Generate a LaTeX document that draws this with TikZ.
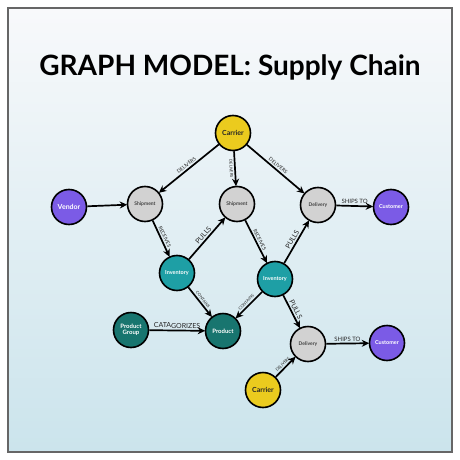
\documentclass[tikz,border=0pt]{standalone}
\usepackage{fontspec}
\setmainfont{Lato}
\usetikzlibrary{positioning,arrows.meta}
\definecolor{colorCAR}{HTML}{EBCB1E}
\definecolor{colorVEN}{HTML}{7B5BE6}
\definecolor{colorSHP}{HTML}{D2D2D2}
\definecolor{colorINV}{HTML}{1E9FA5}
\definecolor{colorPRD}{HTML}{18756F}
\definecolor{colorTOP}{HTML}{F8F9FB}
\definecolor{colorMID}{HTML}{E9F2F6}
\definecolor{colorBOT}{HTML}{CBE4EC}
\newcommand{\fs}[1]{\fontsize{#1}{#1}\selectfont}
\tikzset{
   every path/.style={>={Stealth[length=7.5pt,width=7pt]}},
   ent/.style={circle,draw=black,line width=1.6pt,minimum size=35pt,inner sep=0pt,align=center},
   car/.style={ent,fill=colorCAR,text=black!85,font=\bfseries\fs{7}},
   ven/.style={ent,fill=colorVEN,text=white,font=\bfseries\fs{7}},
   cus/.style={ent,fill=colorVEN,text=white,font=\bfseries\fs{5.5}},
   shp/.style={ent,fill=colorSHP,text=black!75,font=\bfseries\fs{5}},
   inv/.style={ent,fill=colorINV,text=white,font=\bfseries\fs{5.5}},
   prd/.style={ent,fill=colorPRD,text=white,font=\bfseries\fs{6}},
   rel/.style={->,line width=1.7pt,shorten >=-0.5pt},
   lbl/.style={sloped,above,inner sep=1.5pt,text=black!85,font=\fs{5}},
   lbs/.style={lbl,font=\fs{4}},
   lbb/.style={lbl,font=\fs{7}},
}
\begin{document}
\begin{tikzpicture}[x=1pt,y=-1pt]
      \useasboundingbox (0,0) rectangle (460,460);
      \fill[white] (0,0) rectangle (460,460);
      \shade[top color=colorTOP,middle color=colorMID,bottom color=colorBOT] (8,8) rectangle (452,452);
      \draw[gray!80!black,line width=1.2pt] (8,8) rectangle (452,452);
      \node[font=\bfseries\fs{28}] (ttl) at (230,67) {GRAPH MODEL: Supply Chain};
      \node[car] (car1) at (233,133) {Carrier};
      \node[ven] (ven) at (69,207) {Vendor};
      \node[shp] (shp1) at (145,204) {Shipment};
      \node[shp] (shp2) at (237,204) {Shipment};
      \node[shp] (del1) at (318,205) {Delivery};
      \node[cus] (cus1) at (391,207) {Customer};
      \node[inv] (inv1) at (177,273) {Inventory};
      \node[inv] (inv2) at (275,279) {Inventory};
      \node[prd] (grp) at (131,330) {Product\\Group};
      \node[prd] (prd) at (223,331) {Product};
      \node[shp] (del2) at (308,344) {Delivery};
      \node[cus] (cus2) at (387,343) {Customer};
      \node[car] (car2) at (263,390) {Carrier};
      \draw[rel] (car1) -- node[lbl]{DELIVERS} (shp1);
      \draw[rel] (car1) -- node[lbs,below]{DELIVERS} (shp2);
      \draw[rel] (car1) -- node[lbl]{DELIVERS} (del1);
      \draw[rel] (ven) -- (shp1);
      \draw[rel] (shp1) -- node[lbl]{RECEIVES} (inv1);
      \draw[rel] (inv1) -- node[lbb]{PULLS} (shp2);
      \draw[rel] (shp2) -- node[lbl]{RECEIVES} (inv2);
      \draw[rel] (inv2) -- node[lbb]{PULLS} (del1);
      \draw[rel] (del1) -- node[lbl,font=\fs{6}]{SHIPS TO} (cus1);
      \draw[rel] (inv1) -- node[lbs]{CONTAINS} (prd);
      \draw[rel] (inv2) -- node[lbs]{CONTAINS} (prd);
      \draw[rel] (grp) -- node[lbl,font=\fs{7}]{CATAGORIZES} (prd);
      \draw[rel] (inv2) -- node[lbb]{PULLS} (del2);
      \draw[rel] (del2) -- node[lbl,font=\fs{6}]{SHIPS TO} (cus2);
      \draw[rel] (car2) -- node[lbs]{DELIVERS} (del2);
\end{tikzpicture}
\end{document}
